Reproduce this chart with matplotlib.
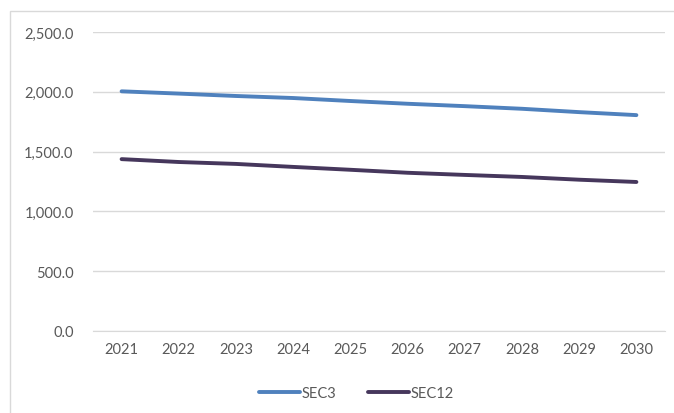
import matplotlib.pyplot as plt
from matplotlib.patches import Rectangle
from matplotlib.ticker import FuncFormatter

years = ['2021', '2022', '2023', '2024', '2025', '2026', '2027', '2028', '2029', '2030']
sec3 = [2004, 1985, 1965, 1948, 1923, 1900, 1880, 1858, 1830, 1805]
sec12 = [1437, 1413, 1397, 1372, 1348, 1323, 1305, 1288, 1265, 1246]

plt.rcParams['font.family'] = ['Lato', 'DejaVu Sans']

fig = plt.figure(figsize=(6.74, 4.14), dpi=100)
ax = fig.add_axes([93 / 674, 1 - 332 / 414, 572 / 674, 299 / 414])

# chart frame (runs off the right and bottom edge like the original)
fig.patches.append(Rectangle((10 / 674, -0.1), 1.2, 1 - 12 / 414 + 0.1,
                             transform=fig.transFigure, fill=False,
                             edgecolor='#d9d9d9', linewidth=1))

x = range(len(years))
ax.plot(x, sec3, color='#4f81bd', lw=2.8, solid_capstyle='round', label='SEC3')
ax.plot(x, sec12, color='#46375c', lw=2.8, solid_capstyle='round', label='SEC12')

ax.set_xlim(-0.5, len(years) - 0.5)
ax.set_ylim(0, 2500)
ax.set_yticks([0, 500, 1000, 1500, 2000, 2500])
ax.yaxis.set_major_formatter(FuncFormatter(lambda v, p: f'{v:,.1f}'))
ax.set_xticks(list(x))
ax.set_xticklabels(years)
ax.grid(axis='y', color='#d9d9d9', linewidth=1)
ax.set_axisbelow(True)
for s in ['top', 'right', 'left']:
    ax.spines[s].set_visible(False)
ax.spines['bottom'].set_color('#d9d9d9')
ax.tick_params(length=0, colors='#595959', labelsize=10.5)
ax.tick_params(axis='y', pad=14)
ax.tick_params(axis='x', pad=8)

ax.legend(loc='upper center', bbox_to_anchor=(0.46, -0.14), ncol=2, frameon=False,
          fontsize=10.5, labelcolor='#595959', handlelength=2.8, handletextpad=0.1,
          columnspacing=2.2)

fig.savefig('out.png', dpi=100)
